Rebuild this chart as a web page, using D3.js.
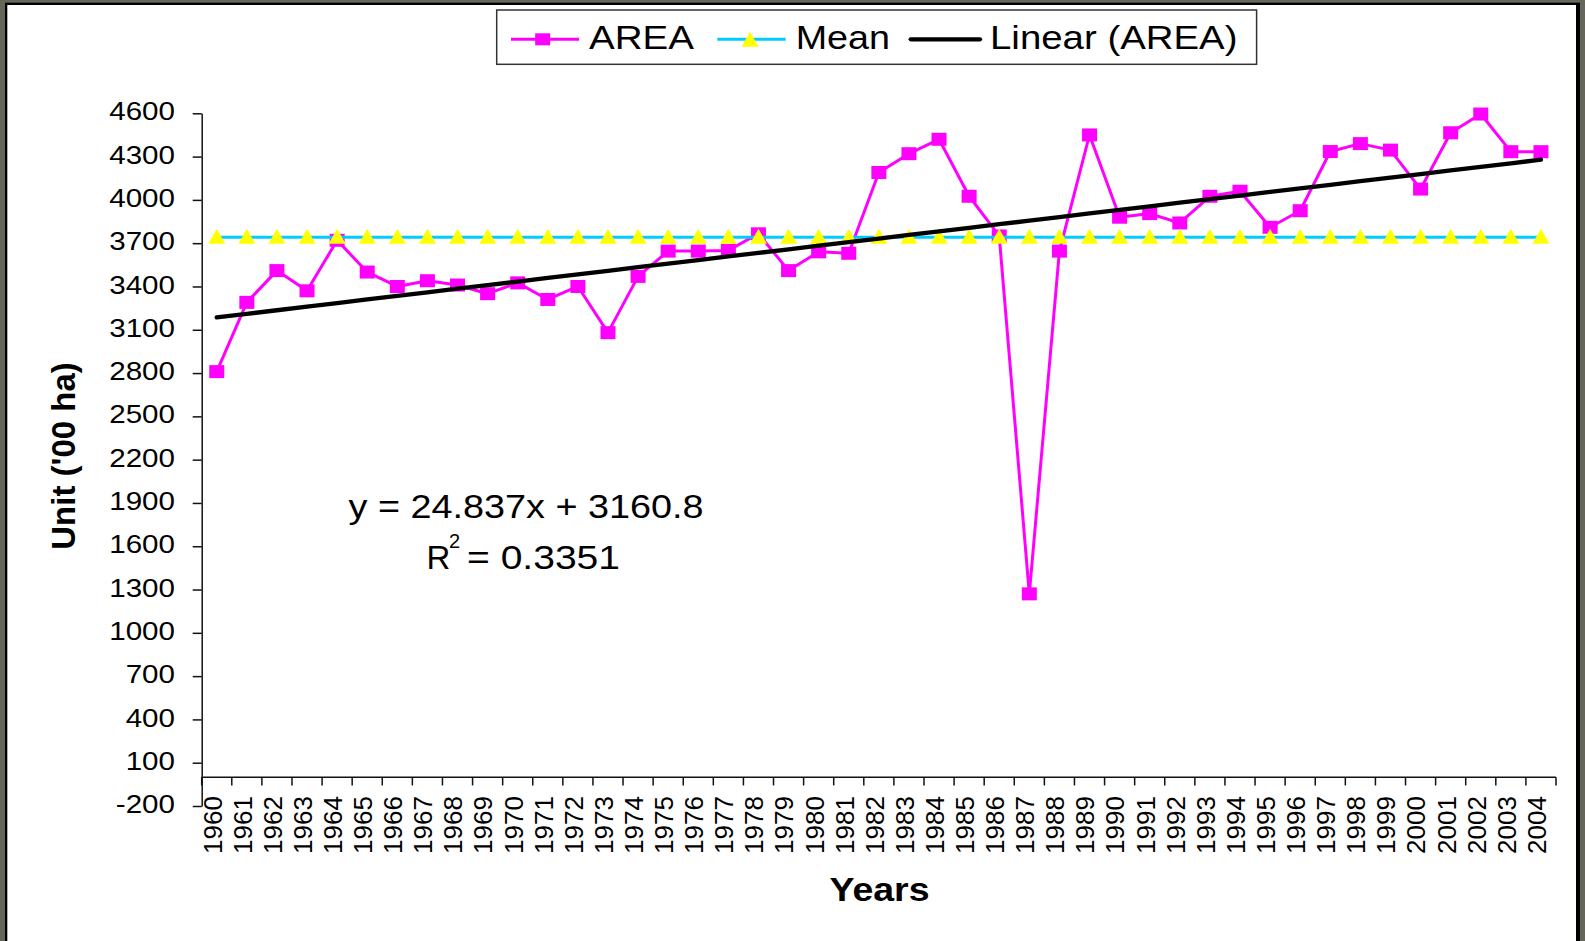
<!DOCTYPE html>
<html>
<head>
<meta charset="utf-8">
<script src="https://cdn.jsdelivr.net/npm/d3@7/dist/d3.min.js"></script>
<style>
  html, body { margin: 0; padding: 0; background: #66665a; }
  svg { display: block; }
  text { font-family: "Liberation Sans", Arial, sans-serif; fill: #000; }
</style>
</head>
<body>
<svg id="chart" width="1585" height="941"></svg>
<script>
// ---------------- DATA ----------------
const years = ["1960","1961","1962","1963","1964","1965","1966","1967","1968","1969",
               "1970","1971","1972","1973","1974","1975","1976","1977","1978","1979",
               "1980","1981","1982","1983","1984","1985","1986","1987","1988","1989",
               "1990","1991","1992","1993","1994","1995","1996","1997","1998","1999",
               "2000","2001","2002","2003","2004"];
const area = [2810, 3290, 3510, 3370, 3720, 3500, 3400, 3440, 3410, 3350,
              3425, 3310, 3400, 3080, 3470, 3645, 3645, 3650, 3765, 3510,
              3640, 3630, 4190, 4320, 4420, 4025, 3750, 1270, 3645, 4450,
              3880, 3905, 3840, 4025, 4060, 3810, 3925, 4335, 4390, 4345,
              4075, 4465, 4595, 4334, 4334];
const yTicks = [-200, 100, 400, 700, 1000, 1300, 1600, 1900, 2200, 2500, 2800, 3100, 3400, 3700, 4000, 4300, 4600];
const trendSlope = 24.837;
const trendIntercept = 3160.8;
const trendR2 = 0.3351;
const legendLabels = ["AREA", "Mean", "Linear (AREA)"];

// ---------------- SETUP ----------------
const svg = d3.select("#chart");
const W = 1585, H = 941;

// outer frame
svg.append("rect").attr("x", 0).attr("y", 0).attr("width", W).attr("height", H).attr("fill", "#66665a");
svg.append("rect").attr("x", 5).attr("y", 2.7).attr("width", 1575).attr("height", H + 10).attr("fill", "#000");
svg.append("rect").attr("x", 7.3).attr("y", 5).attr("width", 1568.7).attr("height", H + 10).attr("fill", "#fff");

const x = d3.scaleBand().domain(years).range([201.7, 1556]).paddingInner(0).paddingOuter(0);
const y = d3.scaleLinear().domain([-200, 4600]).range([806, 113.3]);
const cx = d => x(d) + x.bandwidth() / 2;

const axisColor = "#111";

// ---------------- Y AXIS ----------------
const yAxis = svg.append("g")
  .attr("transform", `translate(${x.range()[0]},0)`)
  .call(d3.axisLeft(y).tickValues(yTicks).tickSize(9).tickSizeOuter(0).tickFormat(d => d));
yAxis.select(".domain").attr("stroke", axisColor).attr("stroke-width", 1.5);
yAxis.selectAll(".tick line").attr("stroke", axisColor).attr("stroke-width", 1.5);
yAxis.selectAll(".tick text")
  .attr("x", null).attr("dy", null)
  .attr("text-anchor", "end")
  .attr("transform", "translate(-26.7,6.6) scale(1.155,1)")
  .style("font-family", '"Liberation Sans", Arial, sans-serif')
  .style("font-size", "25.6px")
  .attr("fill", "#000");

// ---------------- X AXIS ----------------
const y0 = y(0);
const xg = svg.append("g");
xg.append("line")
  .attr("x1", x.range()[0]).attr("x2", x.range()[1])
  .attr("y1", y0).attr("y2", y0)
  .attr("stroke", axisColor).attr("stroke-width", 1.5);
const boundaries = years.map(d => x(d)).concat([x.range()[1]]);
xg.selectAll("line.xt").data(boundaries).join("line")
  .attr("class", "xt")
  .attr("x1", d => d).attr("x2", d => d)
  .attr("y1", y0).attr("y2", y0 + 8.3)
  .attr("stroke", axisColor).attr("stroke-width", 1.5);
xg.selectAll("text.xl").data(years).join("text")
  .attr("class", "xl")
  .attr("text-anchor", "end")
  .attr("dy", "0.36em")
  .attr("transform", d => `translate(${cx(d) - 4.5},${y0 + 19}) rotate(-90)`)
  .style("font-size", "26px")
  .text(d => d);

// axis titles
svg.append("text")
  .attr("text-anchor", "middle")
  .attr("transform", "translate(879.5,900.7) scale(1.15,1)")
  .style("font-size", "32.6px").style("font-weight", "bold")
  .text("Years");
svg.append("text")
  .attr("text-anchor", "middle")
  .attr("dy", "0.36em")
  .attr("transform", "translate(63,456) rotate(-90)")
  .style("font-size", "33px").style("font-weight", "bold")
  .text("Unit ('00 ha)");

// ---------------- SERIES ----------------
const magenta = "#ff00ff", cyan = "#00ccff", yellow = "#ffff00";
const meanVal = d3.mean(area);

// AREA
const areaLine = d3.line().x((d, i) => cx(years[i])).y(d => y(d));
svg.append("path").datum(area)
  .attr("d", areaLine).attr("fill", "none")
  .attr("stroke", magenta).attr("stroke-width", 3).attr("stroke-linejoin", "round");
svg.selectAll("rect.sq").data(area).join("rect")
  .attr("class", "sq")
  .attr("x", (d, i) => cx(years[i]) - 7.5)
  .attr("y", d => y(d) - 6.5)
  .attr("width", 15).attr("height", 13)
  .attr("fill", magenta);

// Mean
const meanData = years.map(() => meanVal);
svg.append("path").datum(meanData)
  .attr("d", d3.line().x((d, i) => cx(years[i])).y(d => y(d)))
  .attr("fill", "none").attr("stroke", cyan).attr("stroke-width", 3);
const tri = (px, py) => `M${px},${py - 8.4}L${px + 8.5},${py + 6.6}L${px - 8.5},${py + 6.6}Z`;
svg.selectAll("path.tri").data(meanData).join("path")
  .attr("class", "tri")
  .attr("d", (d, i) => tri(cx(years[i]), y(d)))
  .attr("fill", yellow);

// Linear trend
const trendData = years.map((d, i) => trendSlope * (i + 1) + trendIntercept);
svg.append("path").datum(trendData)
  .attr("d", d3.line().x((d, i) => cx(years[i])).y(d => y(d)))
  .attr("fill", "none").attr("stroke", "#000").attr("stroke-width", 4.3).attr("stroke-linecap", "round");

// equation
svg.append("text")
  .attr("x", 348.5).attr("y", 517.7)
  .attr("textLength", 355).attr("lengthAdjust", "spacingAndGlyphs")
  .style("font-size", "33px")
  .text(`y = ${trendSlope}x + ${trendIntercept}`);
svg.append("text")
  .attr("x", 426.5).attr("y", 569)
  .style("font-size", "33px")
  .text("R");
svg.append("text")
  .attr("x", 449).attr("y", 548)
  .style("font-size", "20px")
  .text("2");
svg.append("text")
  .attr("x", 467).attr("y", 569)
  .attr("textLength", 153).attr("lengthAdjust", "spacingAndGlyphs")
  .style("font-size", "33px")
  .text(`= ${trendR2}`);

// ---------------- LEGEND ----------------
const lg = svg.append("g");
lg.append("rect")
  .attr("x", 496.7).attr("y", 10).attr("width", 759.9).attr("height", 54.3)
  .attr("fill", "#fff").attr("stroke", "#333").attr("stroke-width", 1.5);
const ly = 39.3;
// AREA
lg.append("line").attr("x1", 511).attr("x2", 579).attr("y1", ly).attr("y2", ly)
  .attr("stroke", magenta).attr("stroke-width", 3);
lg.append("rect").attr("x", 542.7 - 7.5).attr("y", ly - 6).attr("width", 15).attr("height", 12)
  .attr("fill", magenta);
// Mean
lg.append("line").attr("x1", 717.3).attr("x2", 785.7).attr("y1", ly).attr("y2", ly)
  .attr("stroke", cyan).attr("stroke-width", 3);
lg.append("path").attr("d", `M750,31.7L758.5,46.7L741.5,46.7Z`).attr("fill", yellow);
// Linear
lg.append("line").attr("x1", 910.7).attr("x2", 980).attr("y1", ly).attr("y2", ly)
  .attr("stroke", "#000").attr("stroke-width", 4.3).attr("stroke-linecap", "round");

const legendText = [
  { x: 589, w: 105 },
  { x: 795.7, w: 94.3 },
  { x: 990, w: 247.5 }
];
lg.selectAll("text.lt").data(legendLabels).join("text")
  .attr("class", "lt")
  .attr("x", (d, i) => legendText[i].x).attr("y", 49.3)
  .attr("textLength", (d, i) => legendText[i].w).attr("lengthAdjust", "spacingAndGlyphs")
  .style("font-size", "34px")
  .text(d => d);
</script>
</body>
</html>
